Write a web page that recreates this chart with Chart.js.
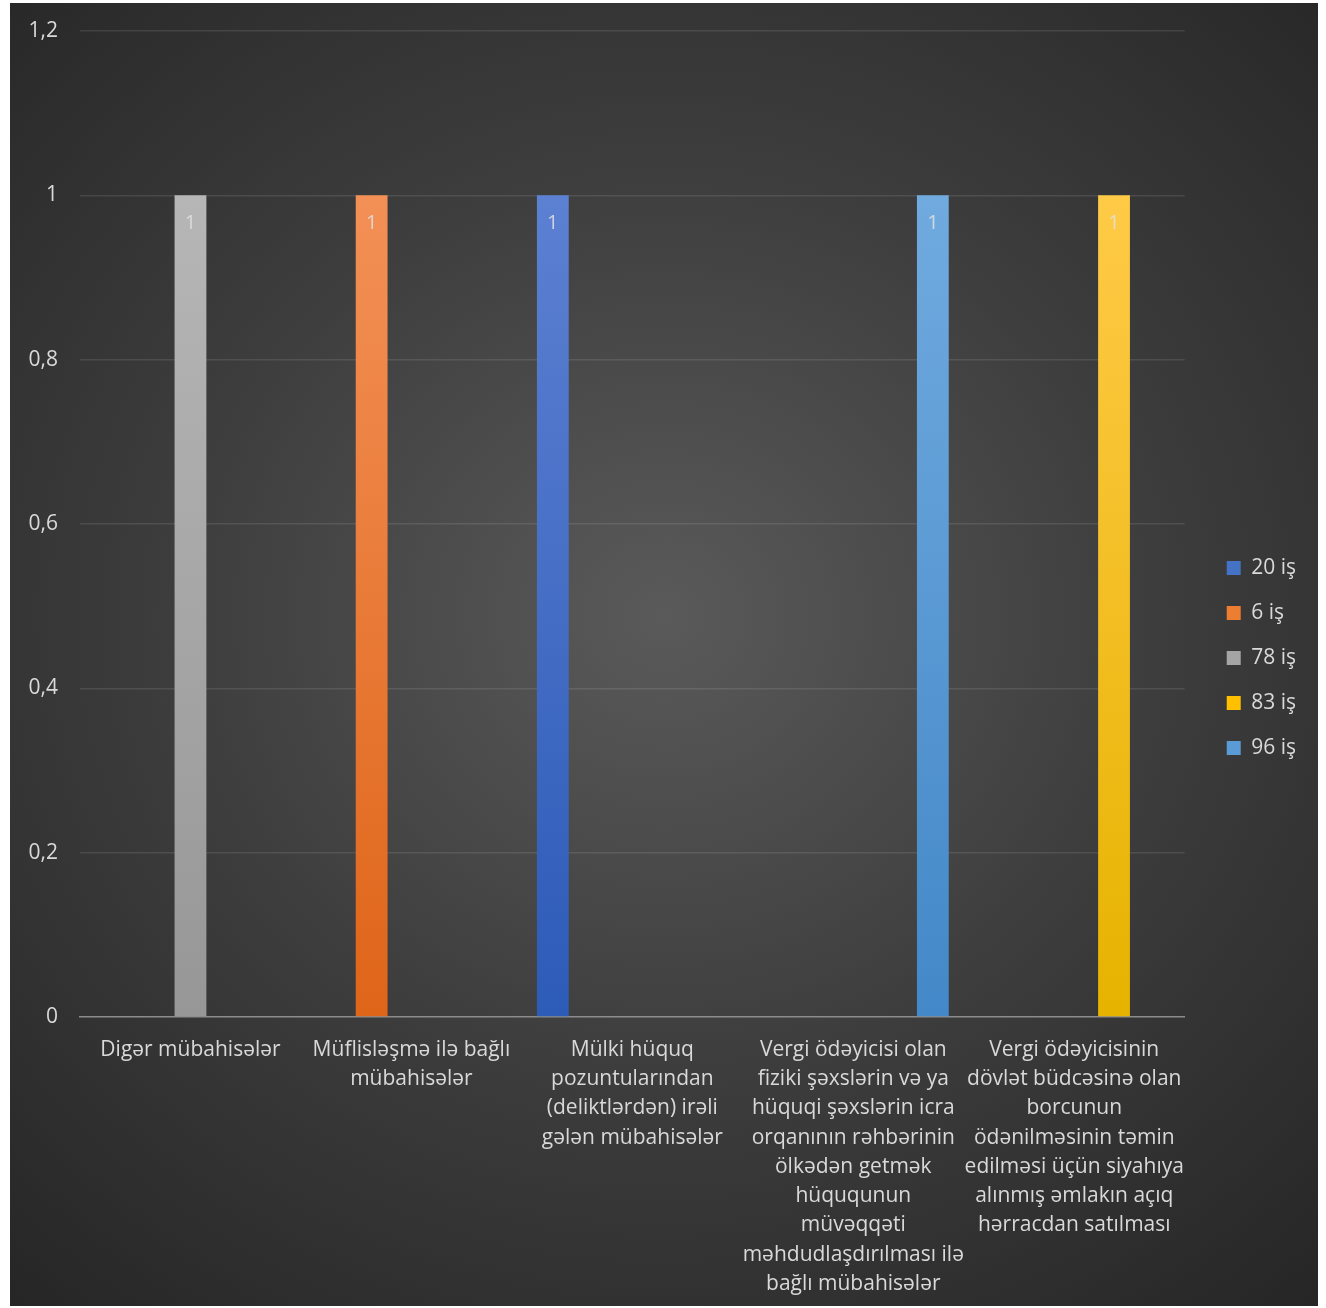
<!DOCTYPE html>
<html>
<head>
<meta charset="utf-8">
<script src="https://cdn.jsdelivr.net/npm/chart.js@4.4.0/dist/chart.umd.min.js"></script>
<style>
  html, body { margin: 0; padding: 0; background: #ffffff; }
  #wrap {
    position: absolute; left: 10px; top: 3px; width: 1308px; height: 1303px;
    background: radial-gradient(ellipse 75% 70% at 50% 47%, #5a5a5a 0%, #3d3d3d 50%, #262626 100%);
  }
  canvas { display: block; }
</style>
</head>
<body>
<div id="wrap"><canvas id="grafico" width="1308" height="1303"></canvas></div>
<script>
// Categorias (já quebradas em linhas como no original)
const categorias = [
  ["Digər mübahisələr"],
  ["Müflisləşmə ilə bağlı", "mübahisələr"],
  ["Mülki hüquq", "pozuntularından", "(deliktlərdən) irəli", "gələn mübahisələr"],
  ["Vergi ödəyicisi olan", "fiziki şəxslərin və ya", "hüquqi şəxslərin icra", "orqanının rəhbərinin",
   "ölkədən getmək", "hüququnun", "müvəqqəti", "məhdudlaşdırılması ilə", "bağlı mübahisələr"],
  ["Vergi ödəyicisinin", "dövlət büdcəsinə olan", "borcunun", "ödənilməsinin təmin",
   "edilməsi üçün siyahıya", "alınmış əmlakın açıq", "hərracdan satılması"]
];

const series = ["20 iş", "6 iş", "78 iş", "83 iş", "96 iş"];
const valores20 = [null, null, 1, null, null];
const valores6  = [null, 1, null, null, null];
const valores78 = [1, null, null, null, null];
const valores83 = [null, null, null, null, 1];
const valores96 = [null, null, null, 1, null];
const yTicks = [0, 0.2, 0.4, 0.6, 0.8, 1, 1.2];

// cores: [topo, base, legenda]
const cores = [
  ["#5c80d2", "#2d5bb8", "#4472c4"],
  ["#f39056", "#df6519", "#ed7d31"],
  ["#b6b6b6", "#979797", "#a5a5a5"],
  ["#ffca46", "#e6b300", "#ffc000"],
  ["#70aadf", "#4388c8", "#5b9bd5"]
];

const FONTE = "'Open Sans', 'Noto Sans', sans-serif";
const TEXTO = "#d9d9d9";

function gradiente(i) {
  return (context) => {
    const chart = context.chart;
    const area = chart.chartArea;
    if (!area) return cores[i][2];
    const y1 = chart.scales.y.getPixelForValue(1);
    const g = chart.ctx.createLinearGradient(0, y1, 0, area.bottom);
    g.addColorStop(0, cores[i][0]);
    g.addColorStop(1, cores[i][1]);
    return g;
  };
}

const listas = [valores20, valores6, valores78, valores83, valores96];
const datasets = series.map((nome, i) => ({
  label: nome,
  data: listas[i],
  backgroundColor: gradiente(i),
  borderWidth: 0
}));

// Rótulos de dados dentro do topo das barras
const rotulos = {
  id: "rotulos",
  afterDatasetsDraw(chart) {
    const ctx = chart.ctx;
    ctx.save();
    ctx.font = "20px " + FONTE;
    ctx.fillStyle = "rgba(225,225,225,0.85)";
    ctx.textAlign = "center";
    ctx.textBaseline = "middle";
    chart.data.datasets.forEach((ds, di) => {
      const meta = chart.getDatasetMeta(di);
      meta.data.forEach((bar, idx) => {
        const v = ds.data[idx];
        if (v === null || v === undefined) return;
        ctx.fillText(String(v).replace(".", ","), bar.x, bar.y + 28);
      });
    });
    ctx.restore();
  }
};

const grafico = new Chart(document.getElementById("grafico"), {
  type: "bar",
  data: { labels: categorias, datasets: datasets },
  plugins: [rotulos],
  options: {
    responsive: false,
    animation: false,
    categoryPercentage: 0.9,
    barPercentage: 0.8,
    layout: { padding: { top: 7, right: 12, bottom: 0, left: 0 } },
    plugins: {
      tooltip: { enabled: false },
      legend: {
        display: true,
        position: "right",
        align: "center",
        labels: {
          color: TEXTO,
          font: { family: FONTE, size: 21 },
          boxWidth: 14,
          boxHeight: 14,
          padding: 24,
          generateLabels(chart) {
            const itens = Chart.defaults.plugins.legend.labels.generateLabels(chart);
            itens.forEach((it, i) => { it.fillStyle = cores[i][2]; it.strokeStyle = cores[i][2]; it.lineWidth = 0; });
            return itens;
          }
        }
      }
    },
    scales: {
      x: {
        grid: { display: false, drawTicks: false },
        border: { display: true, color: "#8c8c8c", width: 1.5 },
        ticks: {
          color: TEXTO,
          font: { family: FONTE, size: 21, lineHeight: 1.395 },
          maxRotation: 0,
          autoSkip: false,
          padding: 18
        },
        afterFit(scale) { scale.height = 289; }
      },
      y: {
        min: 0,
        max: 1.2,
        afterBuildTicks(scale) { scale.ticks = yTicks.map(v => ({ value: v })); },
        grid: {
          drawTicks: false,
          color: (c) => c.tick && c.tick.value === 0 ? "rgba(0,0,0,0)" : "rgba(255,255,255,0.1)",
          lineWidth: 1.5
        },
        border: { display: false },
        ticks: {
          color: TEXTO,
          font: { family: FONTE, size: 21 },
          padding: 22,
          callback: (v) => String(Math.round(v * 10) / 10).replace(".", ",")
        },
        afterFit(scale) {
          scale.width = 70;
          scale.paddingTop = 28;   // topo da área do gráfico
          scale.paddingBottom = 13;
        }
      },
      // eixo vazio à direita: só o espaço entre o gráfico e a legenda
      espaco: {
        position: "right",
        display: true,
        grid: { display: false, drawTicks: false },
        border: { display: false },
        ticks: { display: false },
        afterFit(scale) { scale.width = 18; }
      }
    }
  }
});
</script>
</body>
</html>
